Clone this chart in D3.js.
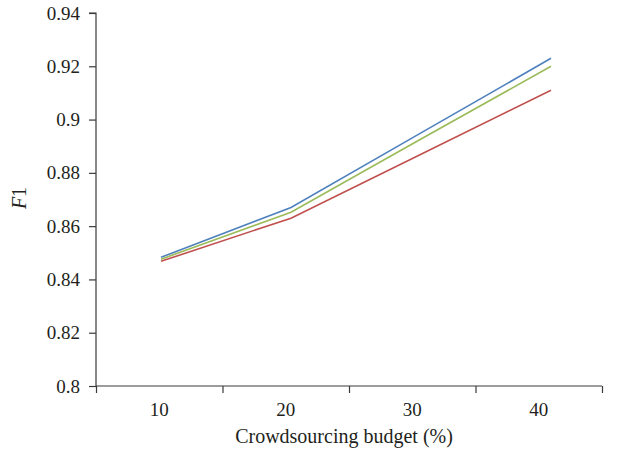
<!DOCTYPE html>
<html>
<head>
<meta charset="utf-8">
<script src="https://cdn.jsdelivr.net/npm/d3@7/dist/d3.min.js"></script>
<style>
  html, body { margin: 0; padding: 0; background: #fff; }
  svg text { font-family: "Liberation Serif", "Times New Roman", serif; fill: #231f20; }
</style>
</head>
<body>
<svg id="chart" width="617" height="453"></svg>
<script>
const categories = ["10", "20", "30", "40"];
const yTicks = [0.8, 0.82, 0.84, 0.86, 0.88, 0.9, 0.92, 0.94];
const seriesBlue = [0.8483, 0.867, 0.895, 0.923];
const seriesGreen = [0.8476, 0.8652, 0.8927, 0.920];
const seriesRed = [0.8468, 0.863, 0.887, 0.911];
const xTitle = "Crowdsourcing budget (%)";

const series = [
  { name: "blue", values: seriesBlue, color: "#4f81bd" },
  { name: "green", values: seriesGreen, color: "#9bbb59" },
  { name: "red", values: seriesRed, color: "#c0504d" }
];

(function () {
const svg = d3.select("#chart");
const pLeft = 96, pRight = 602, pTop = 13, pBottom = 386;
const axisColor = "#3a3a3a";

const y = d3.scaleLinear().domain([0.8, 0.94]).range([pBottom, pTop]);
const xBand = d3.scaleBand().domain(categories).range([pLeft, pRight]);
const xEdges = d3.scaleLinear().domain([0, categories.length]).range([pLeft, pRight]);
const xLine = d3.scalePoint().domain(categories).range([161, 551]);

// Y axis
const yAxis = svg.append("g").attr("transform", `translate(${pLeft},0)`)
  .call(d3.axisLeft(y).tickValues(yTicks).tickSize(7).tickPadding(9)
    .tickFormat(d => String(+d.toFixed(2))));
yAxis.selectAll("path, line").attr("stroke", axisColor).attr("stroke-width", 1.2);
yAxis.select(".domain").attr("d", `M-7,${pTop}H0V${pBottom}`);
yAxis.selectAll("text").style("font-size", "19px").attr("fill", "#231f20");

// X axis boundary ticks
const xAxis = svg.append("g").attr("transform", `translate(0,${pBottom})`)
  .call(d3.axisBottom(xEdges).tickValues(d3.range(categories.length + 1)).tickSize(7).tickFormat(""));
xAxis.selectAll("path, line").attr("stroke", axisColor).attr("stroke-width", 1.2);
xAxis.select(".domain").attr("d", `M${pLeft},0H${pRight}`);

// X labels at band centers
const xLab = svg.append("g").attr("transform", `translate(0,${pBottom})`)
  .call(d3.axisBottom(xBand).tickSize(0).tickPadding(17));
xLab.select(".domain").remove();
xLab.selectAll("text").style("font-size", "19px").attr("fill", "#231f20");

// Lines
const line = d3.line().x((d, i) => xLine(categories[i])).y(d => y(d));
svg.append("g").selectAll("path").data(series).join("path")
  .attr("d", d => line(d.values))
  .attr("fill", "none")
  .attr("stroke", d => d.color)
  .attr("stroke-width", 1.6);

// Axis titles
svg.append("text").attr("x", (pLeft + pRight) / 2 - 5).attr("y", 443)
  .attr("text-anchor", "middle").style("font-size", "20px").text(xTitle);

const yt = svg.append("text")
  .attr("transform", "translate(26,198) rotate(-90)")
  .attr("text-anchor", "middle").style("font-size", "20px");
yt.append("tspan").style("font-style", "italic").text("F");
yt.append("tspan").text("1");
})();
</script>
</body>
</html>
